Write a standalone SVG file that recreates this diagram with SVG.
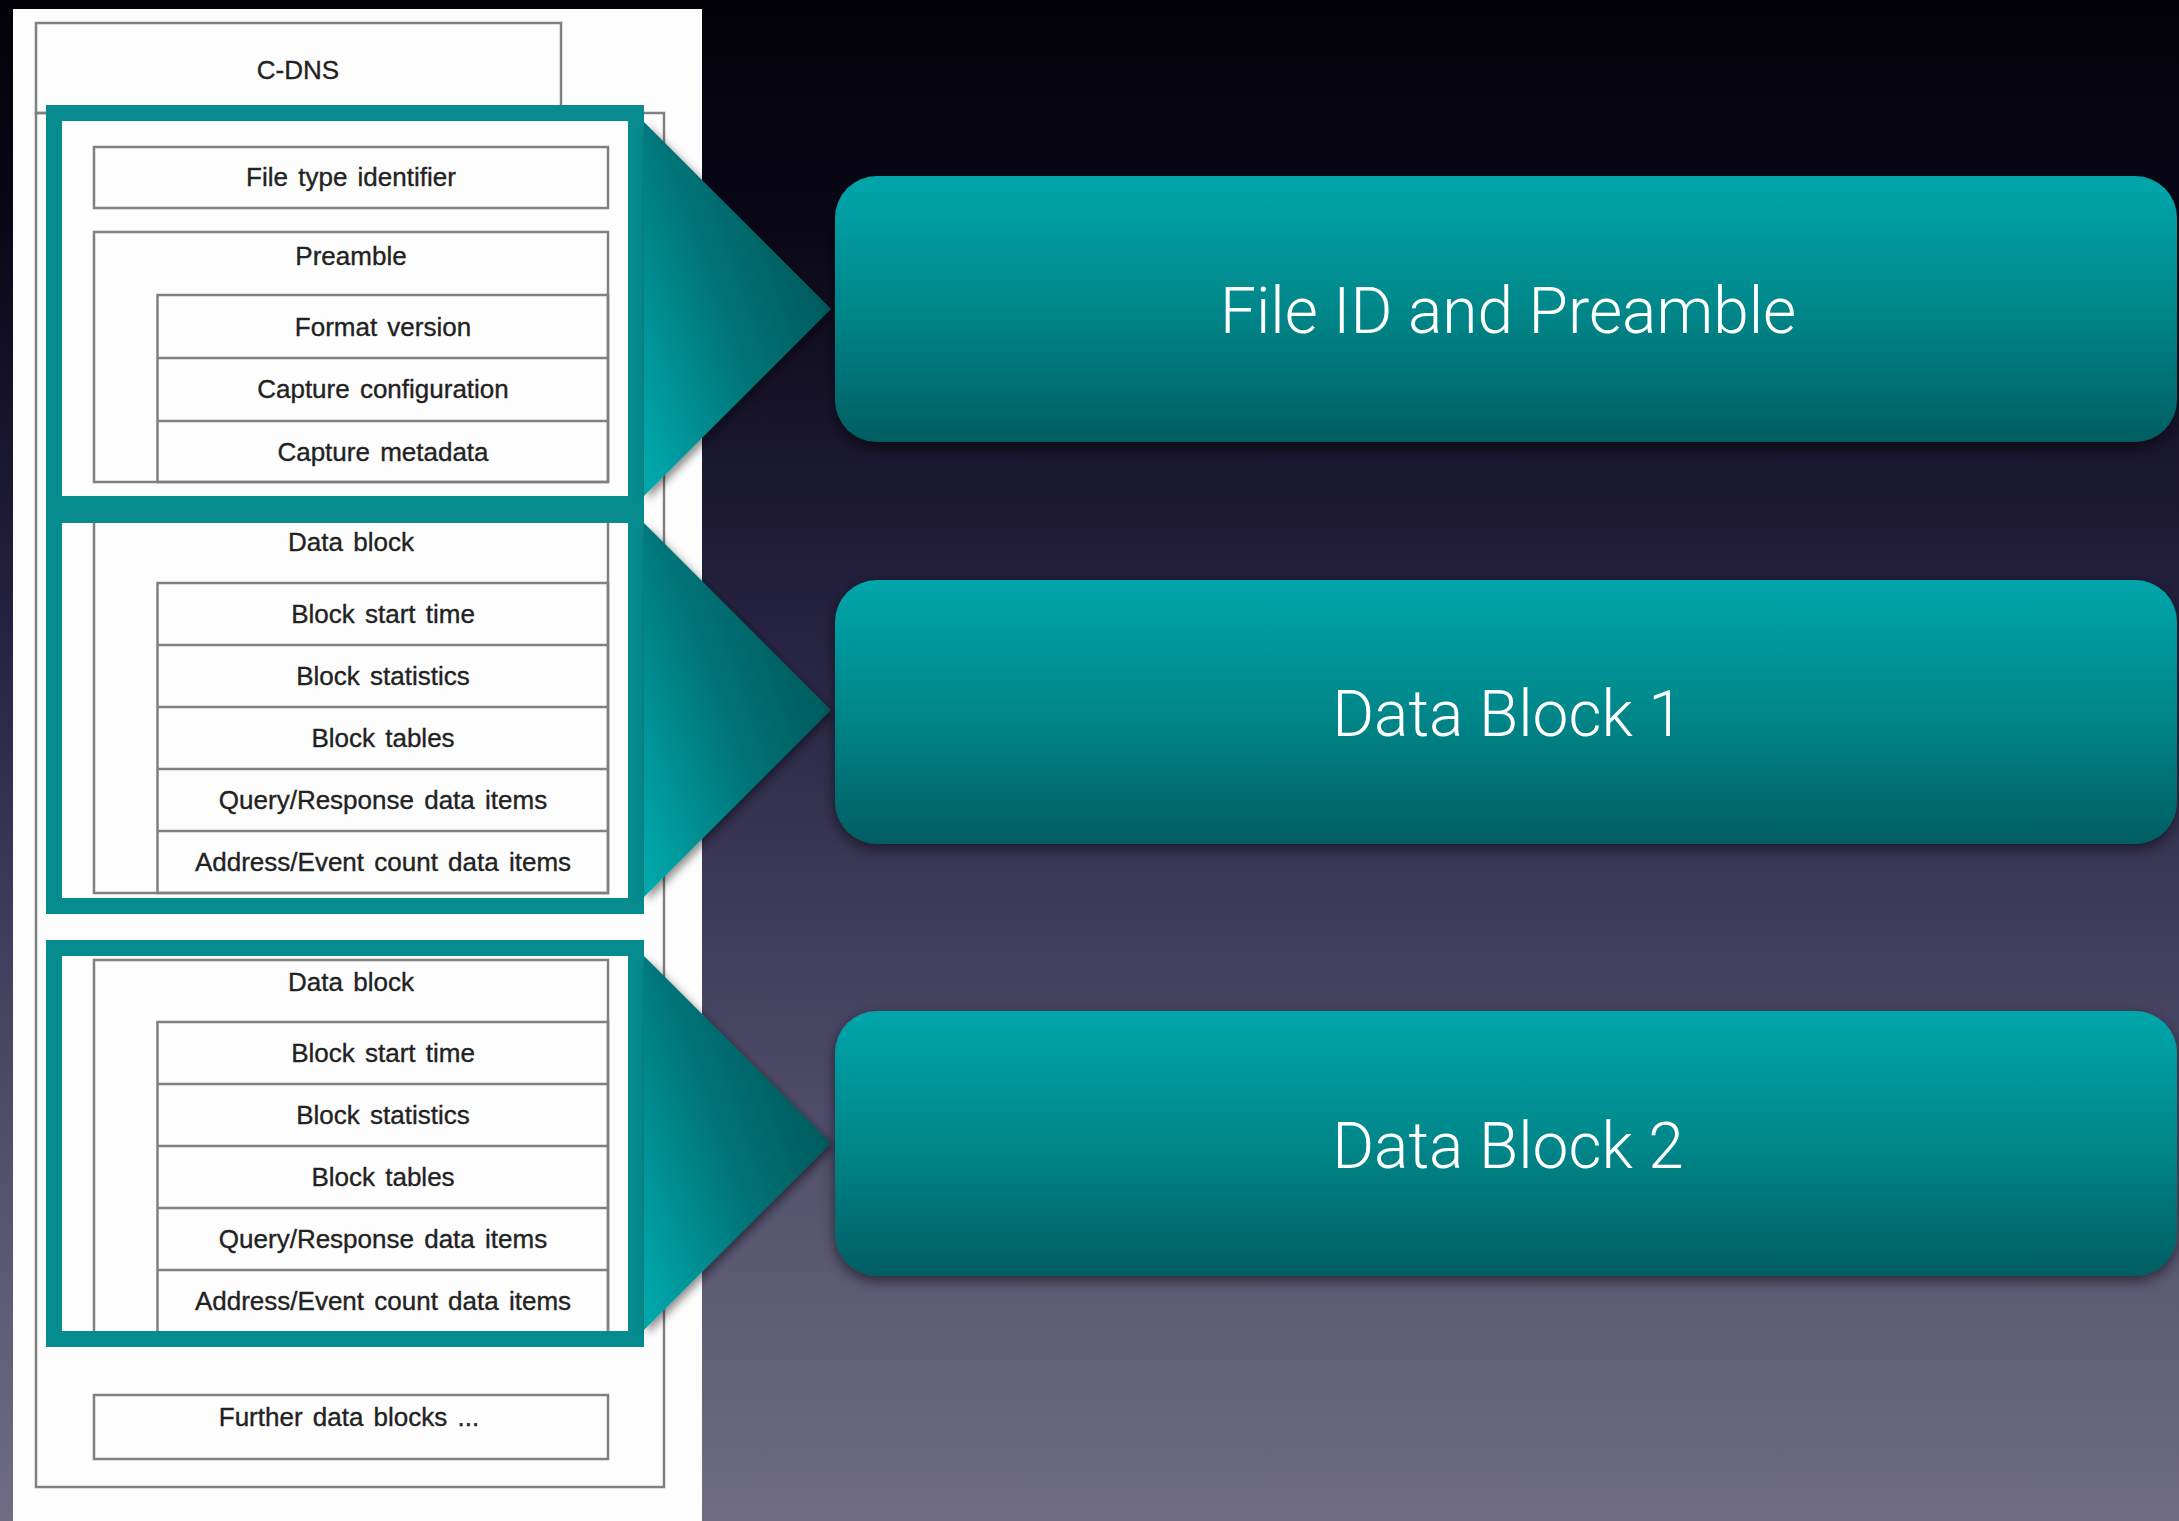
<svg xmlns="http://www.w3.org/2000/svg" width="2179" height="1521" viewBox="0 0 2179 1521">
  <defs>
    <linearGradient id="bg" x1="0" y1="0" x2="0" y2="1">
      <stop offset="0" stop-color="#030209"/>
      <stop offset="0.15" stop-color="#0a0818"/>
      <stop offset="0.4" stop-color="#24203f"/>
      <stop offset="0.62" stop-color="#413e5d"/>
      <stop offset="0.82" stop-color="#5a5773"/>
      <stop offset="1" stop-color="#6f6c84"/>
    </linearGradient>
    <linearGradient id="boxg" x1="0" y1="0" x2="0" y2="1">
      <stop offset="0" stop-color="#00a6ab"/>
      <stop offset="0.5" stop-color="#00878a"/>
      <stop offset="1" stop-color="#005e62"/>
    </linearGradient>
    <linearGradient id="trig" x1="0.9" y1="0.35" x2="0.05" y2="0.95">
      <stop offset="0" stop-color="#005a5d"/>
      <stop offset="0.45" stop-color="#007377"/>
      <stop offset="1" stop-color="#00a6aa"/>
    </linearGradient>
    <filter id="shadow" x="-10%" y="-10%" width="130%" height="140%">
      <feDropShadow dx="0" dy="5" stdDeviation="7" flood-color="#000" flood-opacity="0.55"/>
    </filter>
    <filter id="tshadow" x="-20%" y="-20%" width="150%" height="140%">
      <feDropShadow dx="3" dy="4" stdDeviation="4" flood-color="#000" flood-opacity="0.45"/>
    </filter>
  </defs>
  <style>
    .box { fill: none; stroke: #808080; stroke-width: 2.5; }
    .lbl { font-family: "Liberation Sans", Arial, sans-serif; font-size: 26px; fill: #222222; stroke: #222222; stroke-width: 0.35; text-anchor: middle; word-spacing: 3px; }
    .frame { fill: none; stroke: #068b8f; stroke-width: 16; }
    .big { fill: url(#boxg); filter: url(#shadow); }
    .bigt { font-family: Roboto, "Liberation Sans", sans-serif; font-weight: 300; font-size: 64px; fill: #ffffff; text-anchor: middle; }
    .tri { fill: url(#trig); filter: url(#tshadow); }
  </style>

  <rect x="0" y="0" width="2179" height="1521" fill="url(#bg)"/>
  <rect x="13" y="9" width="689" height="1512" fill="#fdfdfd"/>

  <g id="cdns">
    <rect class="box" x="36" y="23" width="525" height="90"/>
    <text class="lbl" x="298" y="79">C-DNS</text>
  </g>
  <g id="container">
    <rect class="box" x="36" y="113" width="628" height="1374"/>
  </g>

  <g id="file-type-identifier">
    <rect class="box" x="94" y="147" width="514" height="61"/>
    <text class="lbl" x="351" y="186">File type identifier</text>
  </g>

  <g id="preamble">
    <rect class="box" x="94" y="232" width="514" height="250"/>
    <text class="lbl" x="351" y="265">Preamble</text>
    <rect class="box" x="157.5" y="295" width="450.5" height="187"/>
    <line class="box" x1="157.5" y1="358" x2="608" y2="358"/>
    <line class="box" x1="157.5" y1="421" x2="608" y2="421"/>
    <text class="lbl" x="383" y="336">Format version</text>
    <text class="lbl" x="383" y="398">Capture configuration</text>
    <text class="lbl" x="383" y="461">Capture metadata</text>
  </g>

  <g id="data-block-1">
    <rect class="box" x="94" y="512" width="514" height="381"/>
    <text class="lbl" x="351" y="551">Data block</text>
    <rect class="box" x="157.5" y="583" width="450.5" height="310"/>
    <line class="box" x1="157.5" y1="645" x2="608" y2="645"/>
    <line class="box" x1="157.5" y1="707" x2="608" y2="707"/>
    <line class="box" x1="157.5" y1="769" x2="608" y2="769"/>
    <line class="box" x1="157.5" y1="831" x2="608" y2="831"/>
    <text class="lbl" x="383" y="623">Block start time</text>
    <text class="lbl" x="383" y="685">Block statistics</text>
    <text class="lbl" x="383" y="747">Block tables</text>
    <text class="lbl" x="383" y="809">Query/Response data items</text>
    <text class="lbl" x="383" y="871">Address/Event count data items</text>
  </g>

  <g id="data-block-2">
    <rect class="box" x="94" y="960" width="514" height="380"/>
    <text class="lbl" x="351" y="991">Data block</text>
    <rect class="box" x="157.5" y="1022" width="450.5" height="318"/>
    <line class="box" x1="157.5" y1="1084" x2="608" y2="1084"/>
    <line class="box" x1="157.5" y1="1146" x2="608" y2="1146"/>
    <line class="box" x1="157.5" y1="1208" x2="608" y2="1208"/>
    <line class="box" x1="157.5" y1="1270" x2="608" y2="1270"/>
    <text class="lbl" x="383" y="1062">Block start time</text>
    <text class="lbl" x="383" y="1124">Block statistics</text>
    <text class="lbl" x="383" y="1186">Block tables</text>
    <text class="lbl" x="383" y="1248">Query/Response data items</text>
    <text class="lbl" x="383" y="1310">Address/Event count data items</text>
  </g>

  <g id="further-data-blocks">
    <rect class="box" x="94" y="1395" width="514" height="64"/>
    <text class="lbl" x="349" y="1426">Further data blocks ...</text>
  </g>

  <g id="frames">
    <rect class="frame" x="54" y="113" width="582" height="391"/>
    <rect class="frame" x="54" y="515" width="582" height="391"/>
    <rect class="frame" x="54" y="948" width="582" height="391"/>
  </g>

  <g id="connectors">
    <polygon class="tri" points="644,122 831,309 644,496"/>
    <polygon class="tri" points="644,523 831,710 644,897"/>
    <polygon class="tri" points="644,956 831,1143 644,1330"/>
  </g>

  <g id="file-id-and-preamble">
    <rect class="big" x="835" y="176" width="1342" height="266" rx="42" ry="42"/>
    <text class="bigt" x="1508" y="333">File ID and Preamble</text>
  </g>
  <g id="data-block-1-label">
    <rect class="big" x="835" y="580" width="1342" height="264" rx="42" ry="42"/>
    <text class="bigt" x="1508" y="736">Data Block 1</text>
  </g>
  <g id="data-block-2-label">
    <rect class="big" x="835" y="1011" width="1342" height="265" rx="42" ry="42"/>
    <text class="bigt" x="1508" y="1168">Data Block 2</text>
  </g>
</svg>
